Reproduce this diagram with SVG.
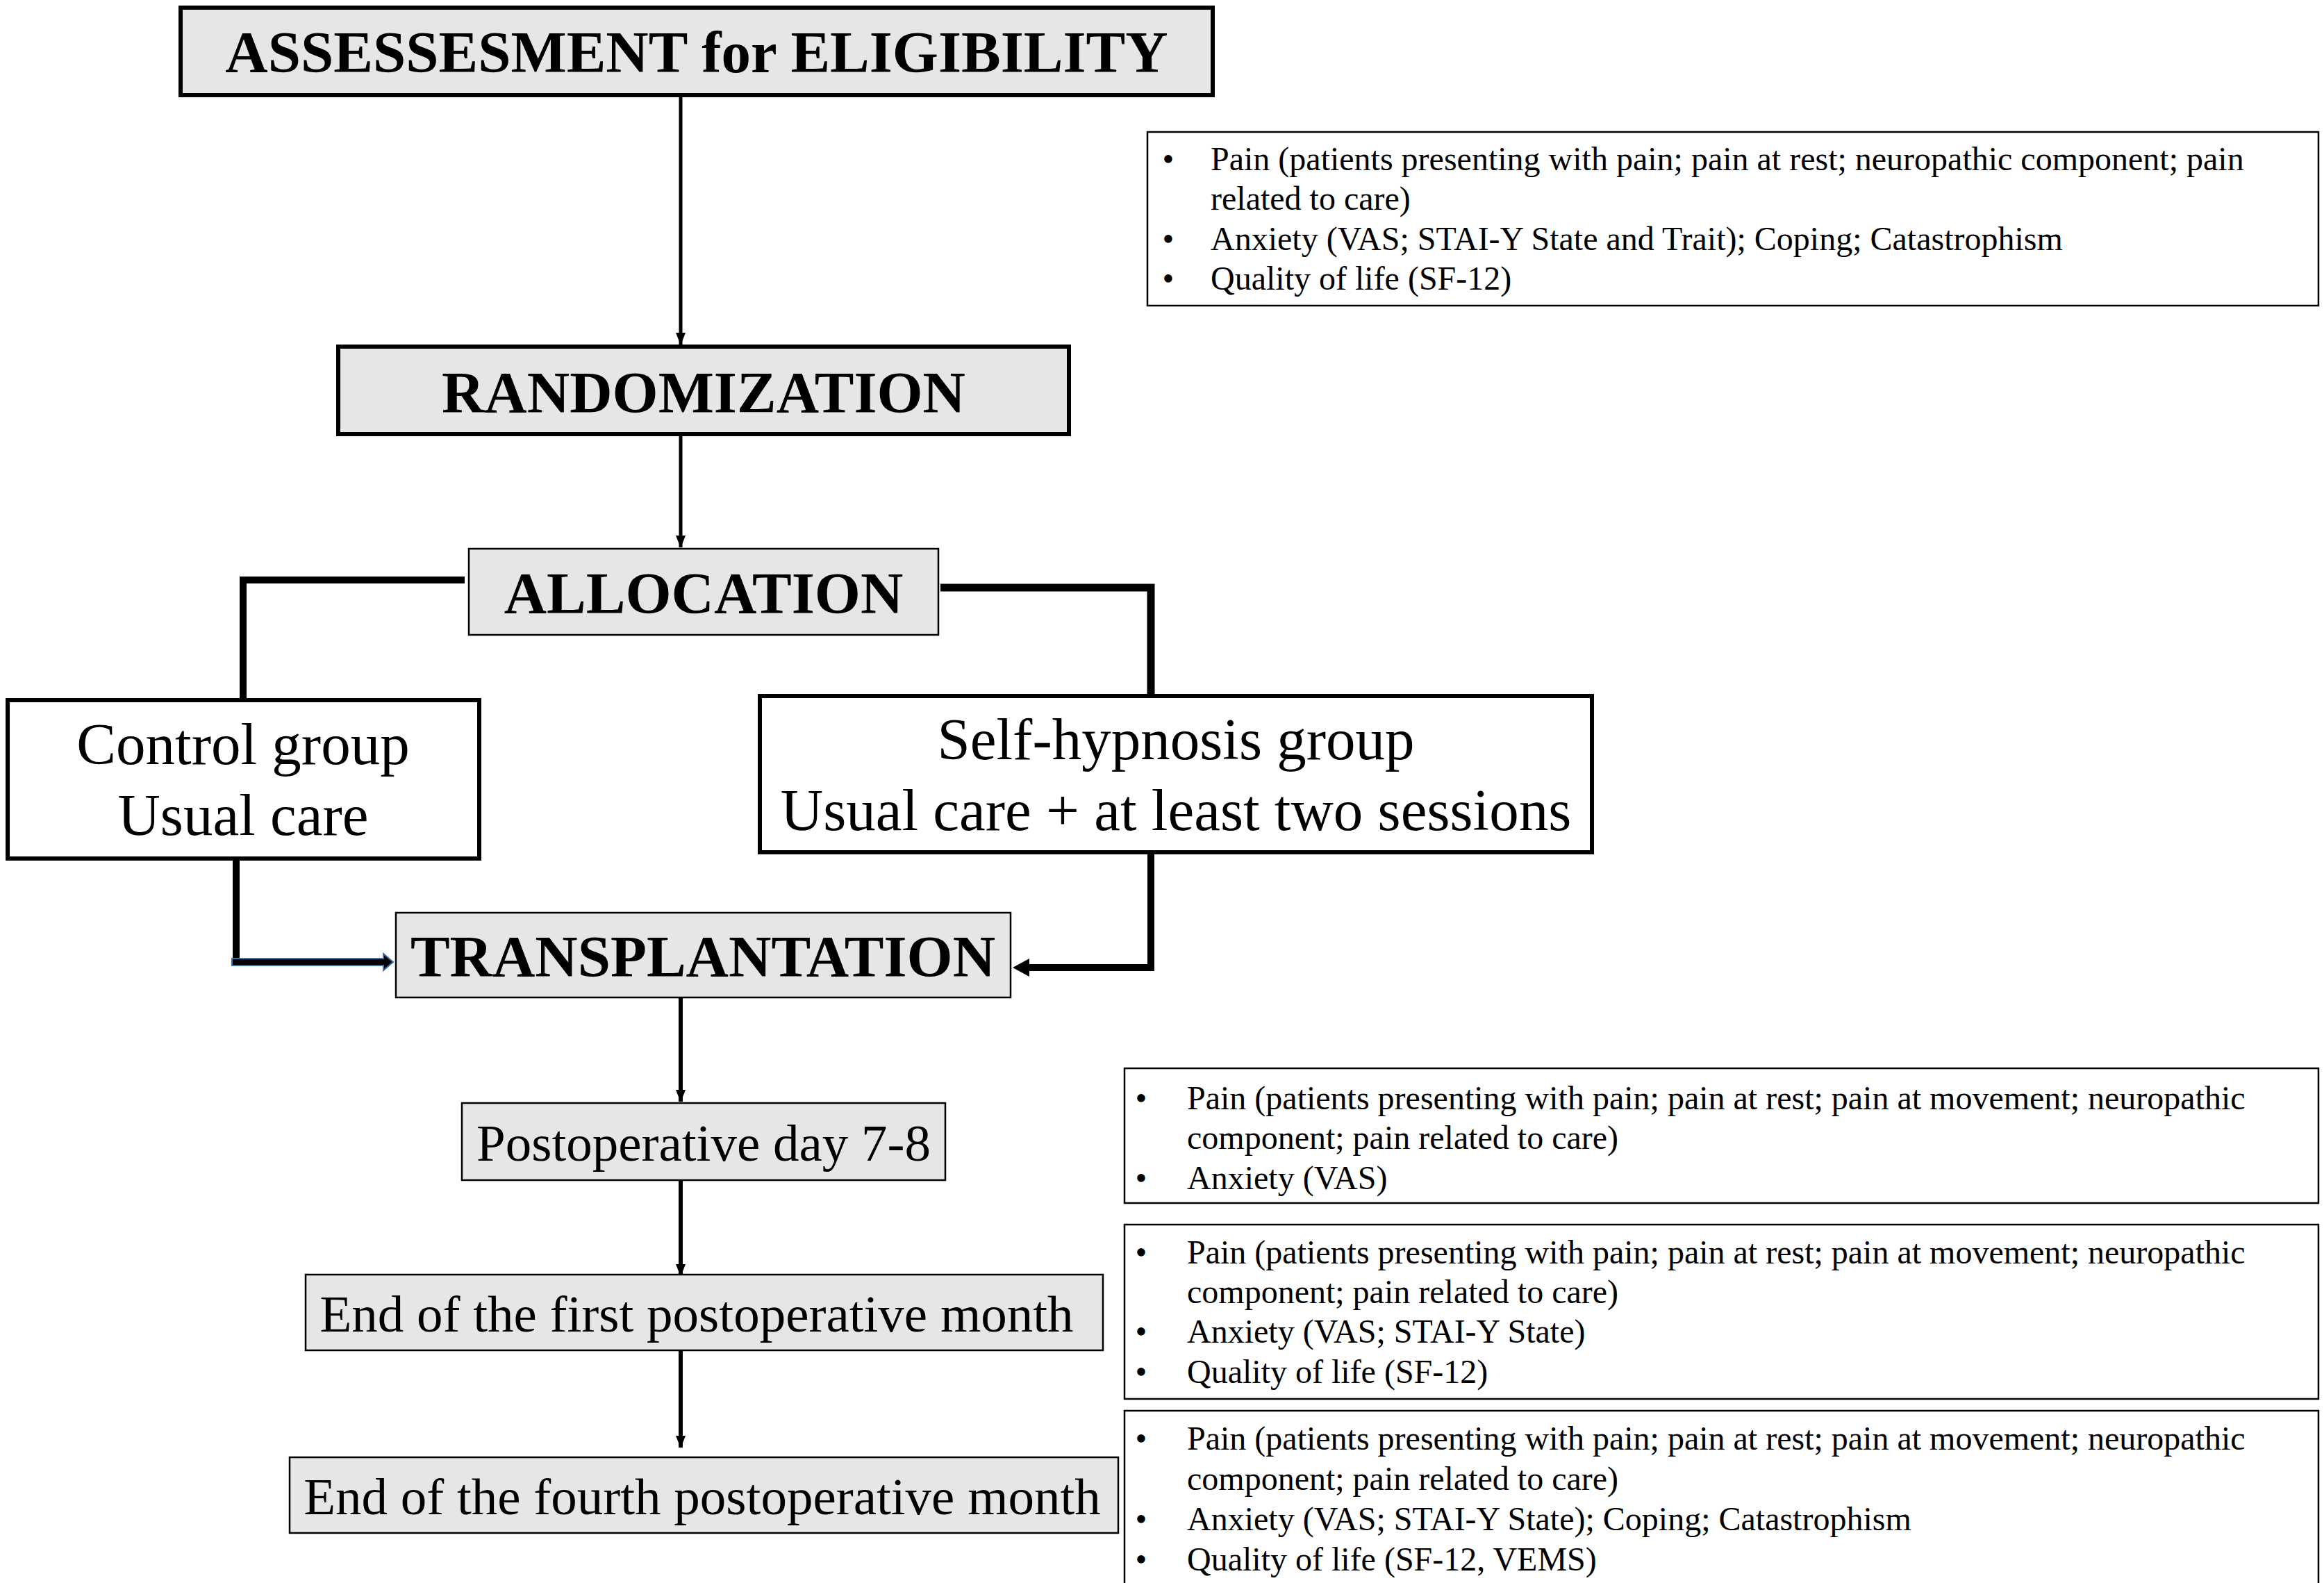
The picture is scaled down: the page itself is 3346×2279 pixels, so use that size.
<svg xmlns="http://www.w3.org/2000/svg" width="3346" height="2279" viewBox="0 0 3346 2279">
<style>
.bg{fill:#ffffff}
.gbox{fill:#e6e6e6;stroke:#000;}
.thick{stroke-width:6}
.thin{stroke-width:2.5}
.wbox{fill:#ffffff;stroke:#000;}
.title{font-family:"Liberation Serif","Times New Roman",serif;font-weight:bold;font-size:85px;text-anchor:middle;fill:#000}
.grp{font-family:"Liberation Serif","Times New Roman",serif;font-size:85px;text-anchor:middle;fill:#000}
.step{font-family:"Liberation Serif","Times New Roman",serif;font-size:75px;text-anchor:middle;fill:#000}
.info{font-family:"Liberation Serif","Times New Roman",serif;font-size:48px;fill:#000}
.bul{font-family:"Liberation Serif","Times New Roman",serif;font-size:48px;text-anchor:middle;fill:#000}
.ln{fill:none;stroke:#000;stroke-linecap:butt;stroke-linejoin:miter}
</style>
<defs>
<marker id="ah" markerUnits="userSpaceOnUse" markerWidth="18" markerHeight="14" refX="17" refY="7" orient="auto">
<path d="M0,0 L18,7 L0,14 Z" fill="#000"/>
</marker>
</defs>
<rect class="bg" x="0" y="0" width="3346" height="2279"/>

<g id="connectors">
<line class="ln" x1="980" y1="137" x2="980" y2="496" stroke-width="5" marker-end="url(#ah)"/>
<line class="ln" x1="980" y1="626" x2="980" y2="788" stroke-width="5" marker-end="url(#ah)"/>
<path class="ln" d="M669,835 H350 V1008" stroke-width="10"/>
<path class="ln" d="M1354,846 H1657 V1000" stroke-width="11"/>
<path class="ln" d="M340,1237 V1385" stroke-width="10"/>
<polygon points="334,1380 552,1380 552,1373 566,1385 552,1397 552,1390 334,1390" fill="#000" stroke="#3d6fa8" stroke-width="2"/>
<path class="ln" d="M1657,1228 V1393 H1478" stroke-width="10"/>
<polygon points="1458,1393 1482,1380 1482,1406" fill="#000"/>
<line class="ln" x1="980" y1="1437" x2="980" y2="1586" stroke-width="6" marker-end="url(#ah)"/>
<line class="ln" x1="980" y1="1699" x2="980" y2="1837" stroke-width="6" marker-end="url(#ah)"/>
<line class="ln" x1="980" y1="1944" x2="980" y2="2084" stroke-width="6" marker-end="url(#ah)"/>
</g>

<g id="assessment">
<rect class="gbox thick" x="260" y="11" width="1486" height="126"/>
<text class="title" x="1003" y="104">ASSESSESMENT for ELIGIBILITY</text>
</g>

<g id="baseline-measures">
<rect class="wbox thin" x="1652" y="190" width="1686" height="250"/>
<text class="bul" x="1682" y="245">•</text>
<text class="info" x="1743" y="245">Pain (patients presenting with pain; pain at rest; neuropathic component; pain</text>
<text class="info" x="1743" y="302">related to care)</text>
<text class="bul" x="1682" y="360">•</text>
<text class="info" x="1743" y="360">Anxiety (VAS; STAI-Y State and Trait); Coping; Catastrophism</text>
<text class="bul" x="1682" y="417">•</text>
<text class="info" x="1743" y="417">Quality of life (SF-12)</text>
</g>

<g id="randomization">
<rect class="gbox thick" x="487" y="499" width="1052" height="126"/>
<text class="title" x="1013" y="594">RANDOMIZATION</text>
</g>

<g id="allocation">
<rect class="gbox thin" x="675" y="790" width="676" height="124"/>
<text class="title" x="1013" y="883">ALLOCATION</text>
</g>

<g id="control-group">
<rect class="wbox thick" x="11" y="1008" width="679" height="228"/>
<text class="grp" x="350" y="1100">Control group</text>
<text class="grp" x="350" y="1202">Usual care</text>
</g>

<g id="self-hypnosis-group">
<rect class="wbox thick" x="1094" y="1002" width="1198" height="225"/>
<text class="grp" x="1693" y="1093">Self-hypnosis group</text>
<text class="grp" x="1693" y="1195">Usual care + at least two sessions</text>
</g>

<g id="transplantation">
<rect class="gbox thin" x="570" y="1314" width="885" height="122"/>
<text class="title" x="1012" y="1406">TRANSPLANTATION</text>
</g>

<g id="postop-day">
<rect class="gbox thin" x="665" y="1588" width="696" height="111"/>
<text class="step" x="1013" y="1671">Postoperative day 7-8</text>
</g>

<g id="day-measures">
<rect class="wbox thin" x="1619" y="1538" width="1719" height="194"/>
<text class="bul" x="1643" y="1597">•</text>
<text class="info" x="1709" y="1597">Pain (patients presenting with pain; pain at rest; pain at movement; neuropathic</text>
<text class="info" x="1709" y="1654">component; pain related to care)</text>
<text class="bul" x="1643" y="1712">•</text>
<text class="info" x="1709" y="1712">Anxiety (VAS)</text>
</g>

<g id="first-month">
<rect class="gbox thin" x="440" y="1835" width="1148" height="109"/>
<text class="step" x="1003" y="1917">End of the first postoperative month</text>
</g>

<g id="first-month-measures">
<rect class="wbox thin" x="1619" y="1763" width="1719" height="251"/>
<text class="bul" x="1643" y="1819">•</text>
<text class="info" x="1709" y="1819">Pain (patients presenting with pain; pain at rest; pain at movement; neuropathic</text>
<text class="info" x="1709" y="1876">component; pain related to care)</text>
<text class="bul" x="1643" y="1933">•</text>
<text class="info" x="1709" y="1933">Anxiety (VAS; STAI-Y State)</text>
<text class="bul" x="1643" y="1991">•</text>
<text class="info" x="1709" y="1991">Quality of life (SF-12)</text>
</g>

<g id="fourth-month">
<rect class="gbox thin" x="417" y="2098" width="1193" height="109"/>
<text class="step" x="1011" y="2180">End of the fourth postoperative month</text>
</g>

<g id="fourth-month-measures">
<rect class="wbox thin" x="1619" y="2031" width="1719" height="262"/>
<text class="bul" x="1643" y="2087">•</text>
<text class="info" x="1709" y="2087">Pain (patients presenting with pain; pain at rest; pain at movement; neuropathic</text>
<text class="info" x="1709" y="2145">component; pain related to care)</text>
<text class="bul" x="1643" y="2203">•</text>
<text class="info" x="1709" y="2203">Anxiety (VAS; STAI-Y State); Coping; Catastrophism</text>
<text class="bul" x="1643" y="2261">•</text>
<text class="info" x="1709" y="2261">Quality of life (SF-12, VEMS)</text>
</g>
</svg>
